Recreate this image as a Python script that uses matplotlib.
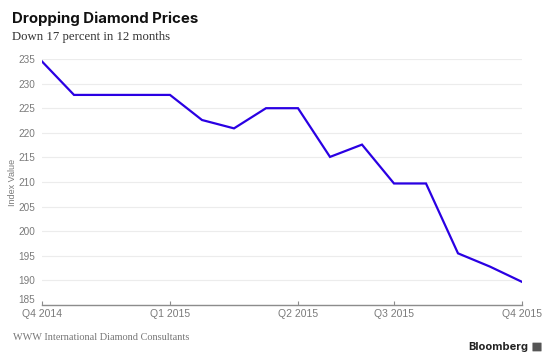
import matplotlib
matplotlib.use("Agg")
import matplotlib.pyplot as plt
from matplotlib.patches import FancyBboxPatch

# monthly index values, Q4 2014 .. Q4 2015
index_values = [234.5, 227.7, 227.7, 227.7, 227.7, 222.6, 220.9, 225.0,
                225.0, 215.1, 217.6, 209.7, 209.7, 195.5, 192.8, 189.7]
tick_positions = [0, 4, 8, 11, 15]
tick_labels = ["Q4 2014", "Q1 2015", "Q2 2015", "Q3 2015", "Q4 2015"]
y_ticks = [185, 190, 195, 200, 205, 210, 215, 220, 225, 230, 235]

LINE_COLOR = "#2a00e3"
TICK_COLOR = "#7a7a7a"

fig = plt.figure(figsize=(5.5, 3.6), dpi=100)
ax = fig.add_axes([42 / 550, 1 - 305 / 360, 480 / 550, 246 / 360])

ax.plot(range(len(index_values)), index_values, color=LINE_COLOR, linewidth=1.6,
        solid_joinstyle="miter", zorder=3)

ax.set_xlim(0, len(index_values) - 1)
ax.set_ylim(185, 235)
ax.set_yticks(y_ticks)
ax.set_xticks(tick_positions)
ax.set_xticklabels(tick_labels)

for s in ["top", "right", "left"]:
    ax.spines[s].set_visible(False)
ax.spines["bottom"].set_color("#8c8c8c")
ax.spines["bottom"].set_linewidth(1.0)

ax.grid(axis="y", color="#ececec", linewidth=0.8)
ax.set_axisbelow(True)

ax.tick_params(axis="y", length=0, pad=5, labelsize=7.2, labelcolor=TICK_COLOR)
ax.tick_params(axis="x", direction="in", length=3, color="#8c8c8c", pad=3,
               labelsize=7.5, labelcolor=TICK_COLOR)
for lbl in ax.get_xticklabels() + ax.get_yticklabels():
    lbl.set_family("Liberation Sans")
# bottom value label sits just above the axis line
ax.get_yticklabels()[0].set_va("bottom")

ax.set_ylabel("Index Value", fontsize=6.5, color=TICK_COLOR, family="Liberation Sans")
ax.yaxis.set_label_coords(-25 / 480, 0.5)

fig.text(12 / 550, 1 - 19 / 360, "Dropping Diamond Prices", fontsize=10.8,
         fontweight="bold", family="Inter", color="#111111", va="center", ha="left")
fig.text(12 / 550, 1 - 37 / 360, "Down 17 percent in 12 months", fontsize=9.2,
         family="Liberation Serif", color="#333333", va="center", ha="left")
fig.text(13 / 550, 1 - 338 / 360, "WWW International Diamond Consultants", fontsize=7.4,
         family="Liberation Serif", color="#777777", va="center", ha="left")
fig.text(528 / 550, 1 - 347 / 360, "Bloomberg", fontsize=8, fontweight="bold",
         family="Inter", color="#222222", va="center", ha="right")

# small logo box
fig.patches.append(FancyBboxPatch((533 / 550, 1 - 351 / 360), 8 / 550, 8 / 360,
                                  boxstyle="round,pad=0.001", transform=fig.transFigure,
                                  facecolor="#555555", edgecolor="none"))

fig.savefig("out.png", dpi=100)
